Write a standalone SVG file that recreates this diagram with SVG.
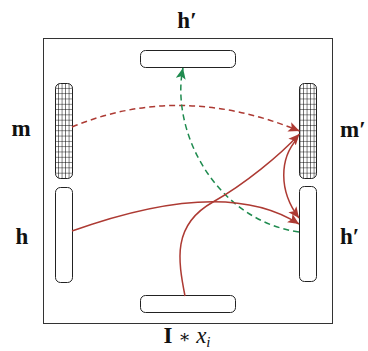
<svg xmlns="http://www.w3.org/2000/svg" width="368" height="351" viewBox="0 0 368 351">
<style>
.frame{fill:none;stroke:#333;stroke-width:1}
.box{fill:#fff;stroke:#222;stroke-width:1}
.grid{fill:url(#hatch);stroke:#222;stroke-width:1}
.lbl{font-family:"Liberation Serif","DejaVu Serif",serif;font-weight:bold;font-size:23px;fill:#111}
.red{fill:none;stroke:#ad3a33;stroke-width:1.5}
.green{fill:none;stroke:#1f8b4f;stroke-width:1.5;stroke-dasharray:6 4}
.dash{stroke-dasharray:6 4}
</style>
<defs>
<pattern id="hatch" patternUnits="userSpaceOnUse" x="55.5" y="83.5" width="3.5" height="5.3">
<rect width="3.5" height="5.3" fill="#fff"/>
<path d="M3.5 0V5.3M0 5.3H3.5" stroke="#000" stroke-width="1" fill="none"/>
</pattern>
<marker id="ar" markerUnits="userSpaceOnUse" markerWidth="14" markerHeight="12" refX="11" refY="5" orient="auto">
<path d="M0 0L11 5L0 10L2.5 5Z" fill="#ad3a33"/>
</marker>
<marker id="ag" markerUnits="userSpaceOnUse" markerWidth="14" markerHeight="12" refX="11" refY="5" orient="auto">
<path d="M0 0L11 5L0 10L2.5 5Z" fill="#1f8b4f"/>
</marker>
</defs>
<rect class="frame" x="43.5" y="38.5" width="289" height="285"/>
<g id="node-top"><rect class="box" x="140.5" y="50.5" width="95" height="17" rx="5"/></g>
<g id="node-bottom"><rect class="box" x="140.5" y="295.5" width="95" height="17" rx="5"/></g>
<g id="node-m"><rect class="grid" x="55.5" y="83.5" width="17" height="95" rx="5"/></g>
<g id="node-h"><rect class="box" x="55.5" y="187.5" width="17" height="95" rx="5"/></g>
<g id="node-mp"><rect class="grid" x="299.5" y="83.5" width="17" height="95" rx="5"/></g>
<g id="node-hp"><rect class="box" x="299.5" y="186.5" width="17" height="95" rx="5"/></g>
<g id="labels">
<text class="lbl" x="187" y="28" text-anchor="middle">h′</text>
<text class="lbl" x="21" y="136" text-anchor="middle">m</text>
<text class="lbl" x="22" y="244" text-anchor="middle">h</text>
<text class="lbl" x="340" y="137">m′</text>
<text class="lbl" x="340" y="244">h′</text>
<text class="lbl" x="187" y="343" text-anchor="middle">I <tspan font-weight="normal" font-size="18">∗</tspan> <tspan font-style="italic" font-weight="normal">x</tspan><tspan font-style="italic" font-weight="normal" font-size="15" dy="4">i</tspan></text>
</g>
<g id="connectors">
<path class="red dash" d="M72 127Q180 82 299.5 131" marker-end="url(#ar)"/>
<path class="green" d="M299 232C215 220 170 130 183 68" marker-end="url(#ag)"/>
<path class="red" d="M72 231Q225 176 299 224" marker-end="url(#ar)"/>
<path class="red" d="M185 296C178 260 172 225 213 202C245 184 280 155 299.5 134" marker-end="url(#ar)"/>
<path class="red" d="M297 139C280 158 278 190 299 218" marker-end="url(#ar)"/>
</g>
</svg>
